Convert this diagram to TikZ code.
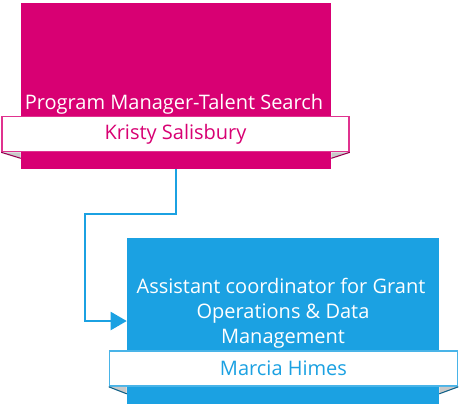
\documentclass[tikz,border=0pt]{standalone}
\usepackage{fontspec}
\setmainfont{Open Sans}
\usetikzlibrary{arrows.meta}
\definecolor{mag}{HTML}{D80073}
\definecolor{cyn}{HTML}{1BA1E2}
\definecolor{foldgray}{HTML}{C9C9C9}
\tikzset{
  box/.style={rectangle, inner sep=0pt, minimum width=#1*0.75pt},
  titlebox/.style={box=310, minimum height=166*0.75pt, draw=none},
  namebox/.style={box=347, minimum height=35*0.75pt, fill=white, line width=1.2pt, font=\fontsize{15}{18}\selectfont},
  titletext/.style={text=white, align=center, font=\fontsize{15}{18.75}\selectfont, inner sep=0pt},
  conn/.style={draw=cyn, line width=1.5pt, -{Triangle[length=12pt,width=13.5pt]}},
}
\begin{document}
\begin{tikzpicture}[x=0.75pt,y=-0.75pt]
\useasboundingbox (0,0) rectangle (460,404);
% top box
\node[titlebox, fill=mag] (pm) at (176,86) {};
\node[namebox, draw=mag!80!white, text=mag] (pmname) at (175.5,134) {Kristy Salisbury};
\node[titletext, anchor=base] (pmtitle) at (174,109) {Program Manager-Talent Search};
\fill[foldgray] (pmname.south west) -- (pmname.south west -| pm.west) -- ([yshift=-6*0.75pt]pmname.south west -| pm.west) -- cycle;
\draw[mag!70!black, line width=0.8pt] (pmname.south west) -- ([yshift=-6*0.75pt]pmname.south west -| pm.west);
\fill[foldgray] (pmname.south east) -- (pmname.south east -| pm.east) -- ([yshift=-6*0.75pt]pmname.south east -| pm.east) -- cycle;
\draw[mag!70!black, line width=0.8pt] (pmname.south east) -- ([yshift=-6*0.75pt]pmname.south east -| pm.east);
% bottom box
\node[titlebox, fill=cyn, minimum width=312*0.75pt] (ac) at (283,321) {};
\node[namebox, draw=cyn!80!white, text=cyn, minimum width=348*0.75pt] (acname) at (283.5,368.5) {Marcia Himes};
\node[titletext, anchor=base] (actitle) at (281,293) {Assistant coordinator for Grant};
\node[titletext, anchor=base] (actitle2) at (283,318) {Operations \& Data};
\node[titletext, anchor=base] (actitle3) at (283,343) {Management};
\fill[foldgray] (acname.south west) -- (acname.south west -| ac.west) -- ([yshift=-7*0.75pt]acname.south west -| ac.west) -- cycle;
\draw[cyn!60!black, line width=0.8pt] (acname.south west) -- ([yshift=-7*0.75pt]acname.south west -| ac.west);
\fill[foldgray] (acname.south east) -- (acname.south east -| ac.east) -- ([yshift=-7*0.75pt]acname.south east -| ac.east) -- cycle;
\draw[cyn!60!black, line width=0.8pt] (acname.south east) -- ([yshift=-7*0.75pt]acname.south east -| ac.east);
% connector
\coordinate (b1) at (85,214);
\draw[conn] (pm.south) |- (b1) |- (ac.west);
\end{tikzpicture}
\end{document}
